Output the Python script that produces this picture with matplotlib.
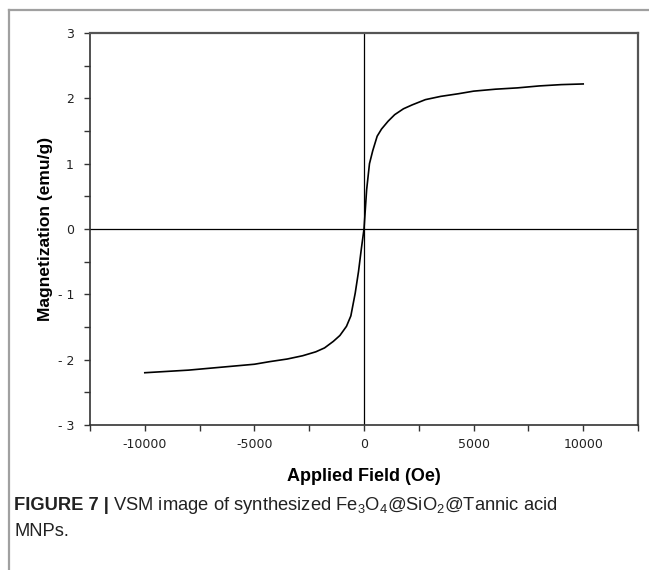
import numpy as np
import matplotlib
matplotlib.use("Agg")
import matplotlib.pyplot as plt
from matplotlib.ticker import MultipleLocator
from matplotlib.lines import Line2D

plt.rcParams['font.family'] = ['Liberation Sans', 'DejaVu Sans']
plt.rcParams['axes.unicode_minus'] = False
plt.rcParams['mathtext.fontset'] = 'custom'
plt.rcParams['mathtext.rm'] = 'Liberation Sans'

# field (Oe) and magnetization (emu/g)
field = [-10000, -9000, -8000, -7000, -6000, -5000, -4300, -3500, -2800, -2200,
         -1800, -1400, -1100, -800, -600, -400, -250, -120, 0,
         120, 250, 400, 600, 800, 1100, 1400, 1800, 2200, 2800, 3500,
         4300, 5000, 6000, 7000, 8000, 9000, 10000]
magnet = [-2.20, -2.18, -2.16, -2.13, -2.10, -2.07, -2.03, -1.99, -1.94, -1.88,
          -1.82, -1.72, -1.63, -1.49, -1.33, -0.98, -0.65, -0.30, 0.0,
          0.60, 1.00, 1.20, 1.42, 1.53, 1.65, 1.75, 1.84, 1.90, 1.98, 2.03,
          2.07, 2.11, 2.14, 2.16, 2.19, 2.21, 2.22]

xticks = [-10000, -5000, 0, 5000, 10000]
yticks = [-3, -2, -1, 0, 1, 2, 3]
xlabels = ["-10000", "-5000", "0", "5000", "10000"]
ylabels = ["- 3", "- 2", "- 1", "0", "1", "2", "3"]

fig = plt.figure(figsize=(6.49, 5.70), dpi=100)
ax = fig.add_axes([90/649, 1 - 425/570, (638-90)/649, (425-33)/570])

ax.plot(field, magnet, color='black', lw=1.2)
ax.axhline(0, color='black', lw=0.9)
ax.axvline(0, color='black', lw=0.9)

ax.set_xlim(-12500, 12500)
ax.set_ylim(-3, 3)
ax.set_xticks(xticks)
ax.set_xticklabels(xlabels, family='DejaVu Sans')
ax.set_yticks(yticks)
ax.set_yticklabels(ylabels, family='DejaVu Sans')
ax.xaxis.set_minor_locator(MultipleLocator(2500))
ax.yaxis.set_minor_locator(MultipleLocator(0.5))
ax.tick_params(which='both', direction='out', length=4.5, width=1.0,
               color='#333333', labelsize=9, labelcolor='#222222',
               top=False, right=False)
ax.tick_params(axis='x', pad=5)
ax.tick_params(axis='y', pad=7)

for s in ['left', 'bottom']:
    ax.spines[s].set_color('#333333')
    ax.spines[s].set_linewidth(1.2)
for s in ['top', 'right']:
    ax.spines[s].set_color('#555555')
    ax.spines[s].set_linewidth(1.6)

ax.set_xlabel("Applied Field (Oe)", fontsize=13, fontweight='bold', labelpad=12)
ax.set_ylabel("Magnetization (emu/g)", fontsize=12.5, fontweight='bold', labelpad=3)

# frame lines of the figure panel
fig.add_artist(Line2D([9/649, 9/649], [0, 1 - 10/570], transform=fig.transFigure,
                      color='#a0a0a0', lw=1.6))
fig.add_artist(Line2D([9/649, 1], [1 - 10/570, 1 - 10/570], transform=fig.transFigure,
                      color='#a0a0a0', lw=1.6))

# caption
cap_y = 1 - 505/570
t1 = fig.text(14/649, cap_y, "FIGURE 7 |", fontsize=13.2, fontweight='bold',
              va='center', ha='left', color='#222222')
fig.canvas.draw()
bb = t1.get_window_extent(renderer=fig.canvas.get_renderer())
fig.text((bb.x1 + 4) / 649, cap_y,
         r"VSM image of synthesized Fe$_3$O$_4$@SiO$_2$@Tannic acid",
         fontsize=13.2, va='center', ha='left', color='#222222')
fig.text(14/649, 1 - 531/570, "MNPs.", fontsize=13.2, va='center', ha='left',
         color='#222222')

fig.savefig("out.png", dpi=100)
